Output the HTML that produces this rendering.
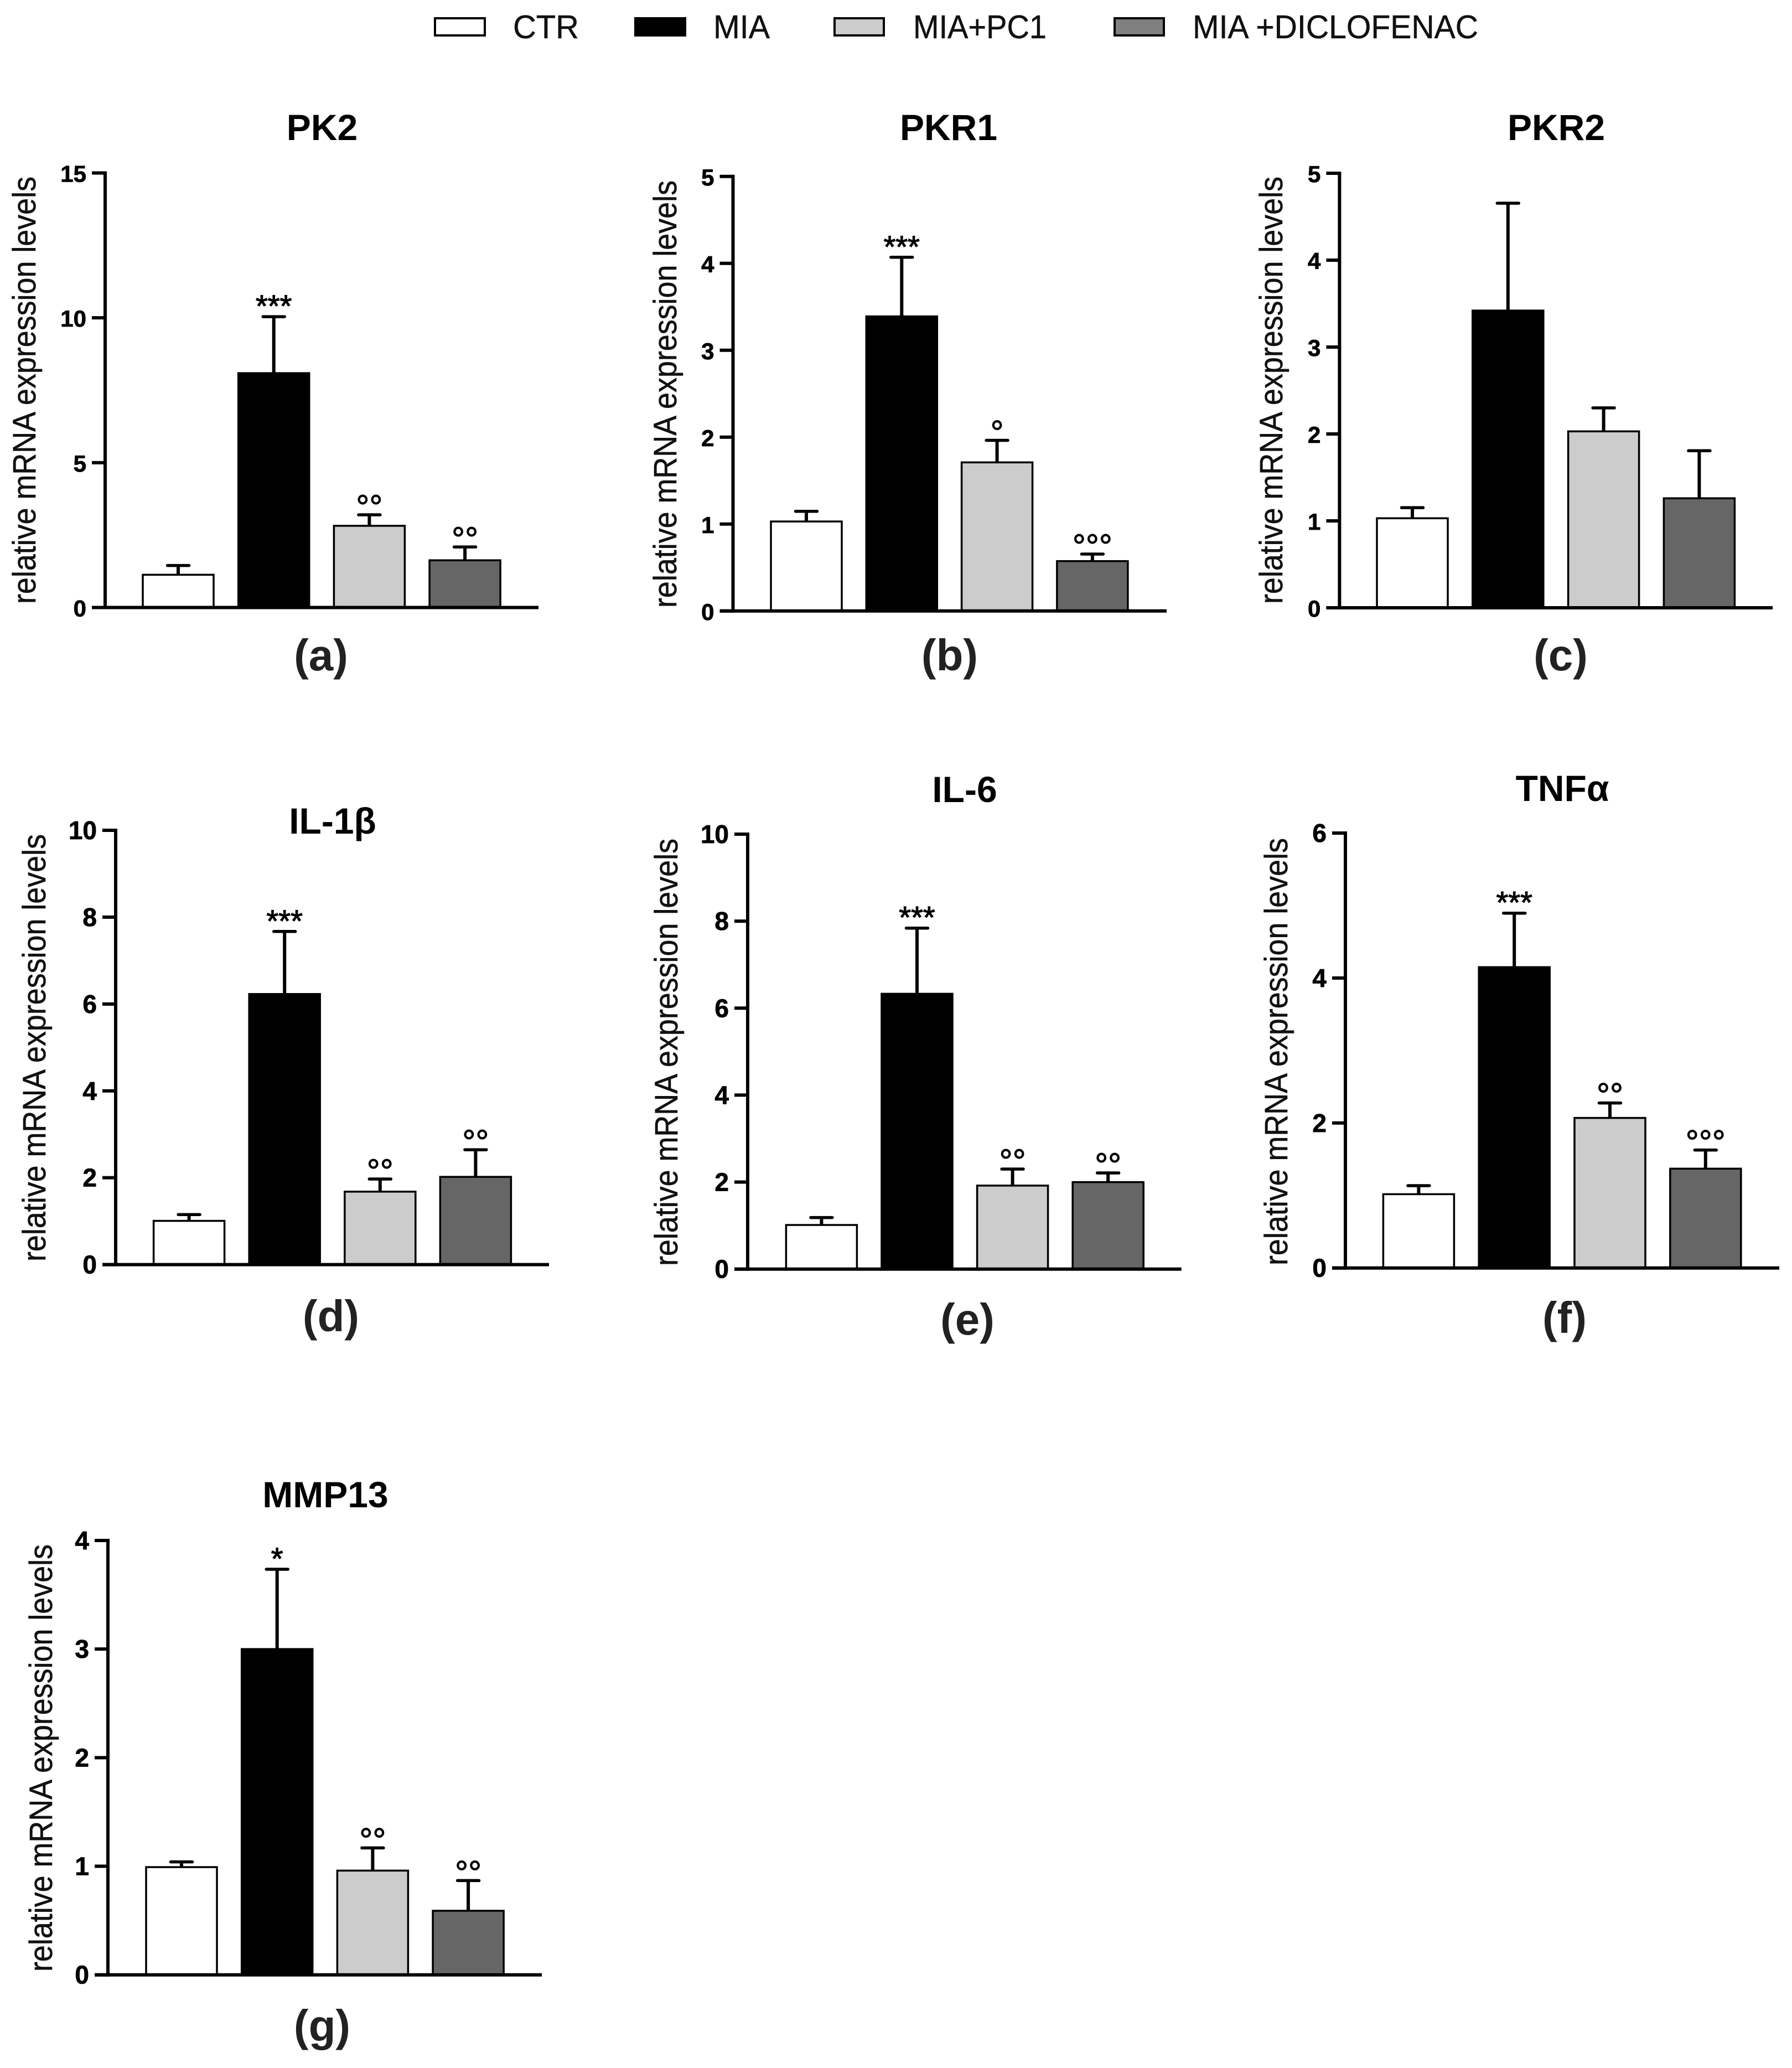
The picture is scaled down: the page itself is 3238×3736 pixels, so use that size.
<!DOCTYPE html>
<html>
<head>
<meta charset="utf-8">
<title>Relative mRNA expression levels</title>
<style>
html,body{margin:0;padding:0;background:#fff;}
svg{display:block;}
text{font-family:"Liberation Sans",Arial,"DejaVu Sans",sans-serif;}
</style>
</head>
<body>
<svg id="figure" xmlns="http://www.w3.org/2000/svg" width="3238" height="3736" viewBox="0 0 3238 3736">
  <rect x="0" y="0" width="3238" height="3736" fill="#fff"/>
  <g>
    <g>
      <rect x="786" y="33" width="90" height="31" fill="#fff" stroke="#000" stroke-width="4"/>
      <text x="927" y="69" font-size="59" fill="#111" stroke="#111" stroke-width="0.5" textLength="119" lengthAdjust="spacingAndGlyphs">CTR</text>
    </g>
    <g>
      <rect x="1148" y="33" width="90" height="31" fill="#000" stroke="#000" stroke-width="4"/>
      <text x="1289" y="69" font-size="59" fill="#111" stroke="#111" stroke-width="0.5" textLength="102" lengthAdjust="spacingAndGlyphs">MIA</text>
    </g>
    <g>
      <rect x="1508" y="33" width="89" height="31" fill="#ccc" stroke="#000" stroke-width="4"/>
      <text x="1650" y="69" font-size="59" fill="#111" stroke="#111" stroke-width="0.5" textLength="241" lengthAdjust="spacingAndGlyphs">MIA+PC1</text>
    </g>
    <g>
      <rect x="2014" y="33" width="89" height="31" fill="#808080" stroke="#000" stroke-width="4"/>
      <text x="2155" y="69" font-size="59" fill="#111" stroke="#111" stroke-width="0.5" textLength="516" lengthAdjust="spacingAndGlyphs">MIA +DICLOFENAC</text>
    </g>
  </g>
</svg>
<script>
// ---- chart data ----
const groups = ['CTR', 'MIA', 'MIA+PC1', 'MIA+DICLOFENAC'];
const yAxisTitle = 'relative mRNA expression levels';

const pk2Means = [1.13, 8.09, 2.82, 1.63];
const pk2ErrorTops = [1.45, 10.04, 3.2, 2.09];
const pk2Ticks = [0, 5, 10, 15];
const pk2Marks = ['', '***', '°°', '°°'];

const pkr1Means = [1.03, 3.39, 1.71, 0.574];
const pkr1ErrorTops = [1.147, 4.07, 1.964, 0.655];
const pkr1Ticks = [0, 1, 2, 3, 4, 5];
const pkr1Marks = ['', '***', '°', '°°°'];

const pkr2Means = [1.03, 3.42, 2.03, 1.26];
const pkr2ErrorTops = [1.152, 4.655, 2.3, 1.807];
const pkr2Ticks = [0, 1, 2, 3, 4, 5];
const pkr2Marks = ['', '', '', ''];

const il1bMeans = [1.007, 6.23, 1.68, 2.02];
const il1bErrorTops = [1.152, 7.67, 1.97, 2.645];
const il1bTicks = [0, 2, 4, 6, 8, 10];
const il1bMarks = ['', '***', '°°', '°°'];

const il6Means = [1.014, 6.33, 1.92, 2.0];
const il6ErrorTops = [1.185, 7.84, 2.3, 2.21];
const il6Ticks = [0, 2, 4, 6, 8, 10];
const il6Marks = ['', '***', '°°', '°°'];

const tnfMeans = [1.018, 4.15, 2.07, 1.37];
const tnfErrorTops = [1.136, 4.895, 2.276, 1.627];
const tnfTicks = [0, 2, 4, 6];
const tnfMarks = ['', '***', '°°', '°°°'];

const mmp13Means = [0.992, 3.0, 0.96, 0.59];
const mmp13ErrorTops = [1.04, 3.735, 1.169, 0.868];
const mmp13Ticks = [0, 1, 2, 3, 4];
const mmp13Marks = ['', '*', '°°', '°°'];

// ---- panel wiring and layout ----
const panelData = [
  {id:'pk2',  title:'PK2',   letter:'(a)', means:pk2Means,  tops:pk2ErrorTops,  ticks:pk2Ticks,  marks:pk2Marks},
  {id:'pkr1', title:'PKR1',  letter:'(b)', means:pkr1Means, tops:pkr1ErrorTops, ticks:pkr1Ticks, marks:pkr1Marks},
  {id:'pkr2', title:'PKR2',  letter:'(c)', means:pkr2Means, tops:pkr2ErrorTops, ticks:pkr2Ticks, marks:pkr2Marks},
  {id:'il-1b',title:'IL-1β', letter:'(d)', means:il1bMeans, tops:il1bErrorTops, ticks:il1bTicks, marks:il1bMarks},
  {id:'il-6', title:'IL-6',  letter:'(e)', means:il6Means,  tops:il6ErrorTops,  ticks:il6Ticks,  marks:il6Marks},
  {id:'tnfa', title:'TNFα',  letter:'(f)', means:tnfMeans,  tops:tnfErrorTops,  ticks:tnfTicks,  marks:tnfMarks},
  {id:'mmp13',title:'MMP13', letter:'(g)', means:mmp13Means,tops:mmp13ErrorTops,ticks:mmp13Ticks,marks:mmp13Marks}
];
const panelFrames = [
  {axisX:190,  top:312.5, base:1097.5, right:973,  bar0:322,    step:172.7, titleX:582,  titleY:253,  letterX:580,  letterY:1211, labelX:64,   labelY:705,  tickSize:42},
  {axisX:1324.5,top:318.8,base:1103.8, right:2108, bar0:1457,   step:172.3, titleX:1714, titleY:253,  letterX:1716, letterY:1211, labelX:1222, labelY:712,  tickSize:42},
  {axisX:2420.4,top:313,  base:1098,   right:3203, bar0:2552,   step:172.8, titleX:2812, titleY:253,  letterX:2820, letterY:1211, labelX:2317, labelY:705,  tickSize:42},
  {axisX:209,  top:1500,  base:2284.6, right:992,  bar0:341.6,  step:172.6, titleX:601,  titleY:1506, letterX:598,  letterY:2405, labelX:82,   labelY:1893, tickSize:46},
  {axisX:1351, top:1507,  base:2292.7, right:2134.7,bar0:1484.4,step:172.6, titleX:1743, titleY:1449, letterX:1748, letterY:2411, labelX:1224, labelY:1901, tickSize:46},
  {axisX:2431, top:1505,  base:2290.7, right:3215, bar0:2563.4, step:172.8, titleX:2823, titleY:1447, letterX:2827, letterY:2408, labelX:2326, labelY:1900, tickSize:46},
  {axisX:195,  top:2783,  base:3567.7, right:979,  bar0:328,    step:172.7, titleX:588,  titleY:2723, letterX:582,  letterY:3687, labelX:94,   labelY:3176, tickSize:46}
];
const barFills = ['#fff', '#000', '#ccc', '#666'];

const NS = 'http://www.w3.org/2000/svg';
const figure = document.getElementById('figure');

function make(parent, tag, attrs, content) {
  const el = document.createElementNS(NS, tag);
  for (const k in attrs) { el.setAttribute(k, attrs[k]); }
  if (content !== undefined) { el.textContent = content; }
  parent.appendChild(el);
  return el;
}

function drawPanel(d, f) {
  const yMax = d.ticks[d.ticks.length - 1];
  const yScale = v => f.base - (v / yMax) * (f.base - f.top);
  const xScale = i => f.bar0 + i * f.step;

  const g = make(figure, 'g', {});
  
  

  const title = make(g, 'text', {x:f.titleX, y:f.titleY, 'text-anchor':'middle', 'font-size':66, 'font-weight':'bold', fill:'#000'}, d.title);
  
  

  const yLabel = make(g, 'text', {x:0, y:0, transform:'translate(' + f.labelX + ' ' + f.labelY + ') rotate(-90)', 'text-anchor':'middle', 'font-size':58, textLength:772, lengthAdjust:'spacingAndGlyphs', fill:'#111', stroke:'#111', 'stroke-width':0.6}, yAxisTitle);
  
  

  d.means.forEach((v, i) => {
    const w = 128;
    const yTop = yScale(v);
    const stem = make(g, 'line', {x1:xScale(i), x2:xScale(i), y1:yTop, y2:yScale(d.tops[i]), stroke:'#000', 'stroke-width':6});
    
    

    const cap = make(g, 'line', {x1:xScale(i) - 19.5, x2:xScale(i) + 19.5, y1:yScale(d.tops[i]), y2:yScale(d.tops[i]), stroke:'#000', 'stroke-width':5.5, 'stroke-linecap':'round'});
    
    

    const bar = make(g, 'rect', {x:xScale(i) - w / 2, y:yTop, width:w, height:f.base - yTop, fill:barFills[i], stroke:'#000', 'stroke-width':3.5});
    
    

    if (d.marks[i]) {
      const isStar = d.marks[i].charAt(0) === '*';
      const errTopY = yScale(d.tops[i]);
      const baselineY = isStar ? errTopY + 0 : errTopY - 27 + 33.5;
      const mark = make(g, 'text', {x:xScale(i), y:baselineY, 'text-anchor':'middle', 'font-size':isStar ? 56 : 60, fill:'#000', stroke:'#000', 'stroke-width':isStar ? 1.2 : 1}, d.marks[i]);
      
      
    }
  });

  const yAxis = make(g, 'line', {x1:f.axisX, x2:f.axisX, y1:f.top - 3, y2:f.base + 3, stroke:'#000', 'stroke-width':6});
  
  

  const xAxis = make(g, 'line', {x1:f.axisX - 24, x2:f.right, y1:f.base, y2:f.base, stroke:'#000', 'stroke-width':6});
  
  

  d.ticks.forEach(t => {
    const tick = make(g, 'line', {x1:f.axisX - 24, x2:f.axisX, y1:yScale(t), y2:yScale(t), stroke:'#000', 'stroke-width':6});
    
    

    const tickLabel = make(g, 'text', {x:f.axisX - 34, y:yScale(t) + 16, 'text-anchor':'end', 'font-size':f.tickSize, 'font-weight':'bold', fill:'#000', stroke:'#000', 'stroke-width':0.8}, String(t));
    
    
  });

  const letter = make(g, 'text', {x:f.letterX, y:f.letterY, 'text-anchor':'middle', 'font-size':80, 'font-weight':'bold', fill:'#222'}, d.letter);
  
  
}

panelData.forEach((d, i) => drawPanel(d, panelFrames[i]));
</script>
</body>
</html>
